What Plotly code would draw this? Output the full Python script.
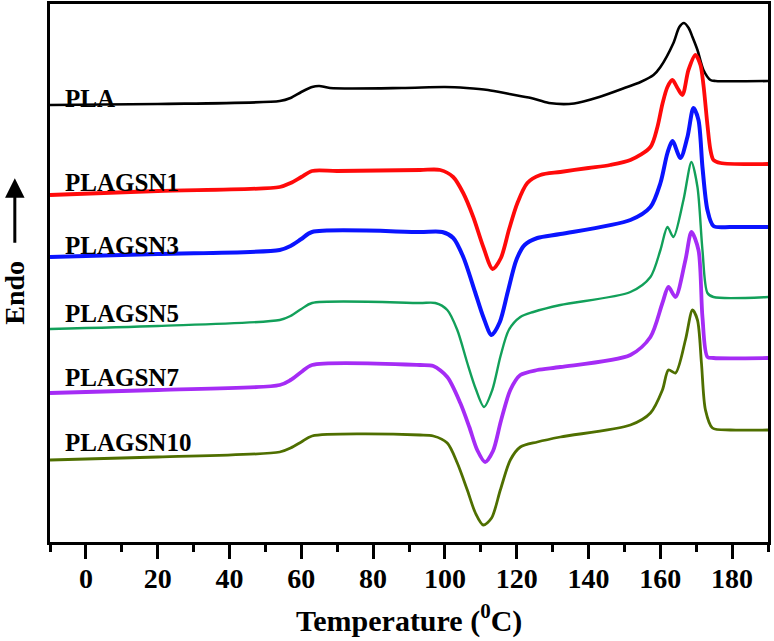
import plotly.graph_objects as go

# Temperature (°C) and heat-flow (arbitrary units, stacked)
pla_t = [-10, 20, 54, 57, 60, 63, 65, 68, 88, 100, 106, 112, 118, 124, 129, 136, 143, 150.8, 154.5, 158.1, 160.04, 163.66, 165.3, 166.6, 167.9, 168.96, 170.35, 172.02, 173.97, 175.4, 190]
pla_h = [437, 438, 441, 444, 450, 455, 456, 454, 454, 455, 454, 452, 448, 444, 439, 438.5, 445, 455, 460, 467, 475, 499, 515, 519, 514, 505, 492, 472, 462, 461, 461]

gsn1_t = [-10, 20, 54, 57, 60, 63, 70, 93.1, 98.7, 102.3, 105.1, 107.9, 110.7, 113.3, 115.6, 117.9, 120.2, 122.96, 126.58, 132.16, 140, 146, 151.67, 157.25, 159.2, 160.59, 161.99, 163.38, 164.78, 166.17, 167.84, 169.79, 171.18, 172.02, 173.13, 173.97, 174.81, 176.76, 190]
gsn1_h = [347, 351, 355, 359, 365, 371, 371, 372, 372, 365, 349, 325, 295, 273, 284, 313, 339, 359, 367, 370, 374, 377, 382, 395, 415, 438, 455, 462, 454, 447, 472, 487, 477, 457, 417, 392, 382, 379, 378]

gsn3_t = [-10, 20, 54, 57, 60, 63, 93.1, 99.27, 102.33, 105.12, 108.4, 110.7, 113.0, 115.3, 117.5, 119.9, 122.2, 125.75, 132.16, 151.67, 157.25, 160.04, 161.99, 163.38, 165.61, 167.56, 169.23, 170.63, 171.74, 173.13, 174.81, 179.55, 190]
gsn3_h = [285, 288, 292, 296, 303, 310, 310, 310, 304, 285, 250, 225, 207, 220, 250, 282, 297, 304, 308, 322, 335, 359, 389, 401, 384, 405, 434, 422, 375, 332, 316, 315, 315]

gsn5_t = [-10, 20, 54, 57, 60, 63, 93.1, 97.32, 100.66, 103.45, 106.24, 108.6, 110.9, 113.2, 115.5, 117.8, 121.01, 124.63, 132.16, 151.67, 157.25, 160.04, 161.99, 163.66, 166.45, 168.68, 170.35, 171.74, 173.13, 174.81, 190]
gsn5_h = [213, 216, 222, 226, 233, 239, 239, 239, 232, 212, 179, 153, 135, 152, 186, 212, 225, 230, 237, 250, 265, 292, 315, 305, 342, 380, 355, 292, 249, 245, 245]

gsn7_t = [-10, 20, 54, 57, 60, 63, 93.1, 96.76, 100.66, 104.29, 106.8, 109.0, 111.2, 113.4, 115.6, 118.22, 121.01, 125.75, 132.16, 151.67, 157.25, 160.59, 162.27, 164.22, 167.0, 168.68, 170.63, 171.74, 173.13, 174.81, 190]
gsn7_h = [149, 152, 157, 162, 170, 177, 177, 176, 165, 139, 115, 92, 80, 91, 121, 152, 167, 172, 175, 187, 205, 239, 255, 245, 282, 310, 292, 225, 185, 184, 184]

gsn10_t = [-10, 20, 54, 57, 60, 63, 93.1, 96.76, 100.66, 103.45, 106.24, 108.5, 110.7, 113.0, 115.44, 118.22, 121.01, 125.75, 132.16, 151.67, 157.25, 160.59, 162.27, 164.22, 167.0, 168.96, 170.35, 171.46, 172.58, 174.53, 179.55, 190]
gsn10_h = [82, 85, 90, 94, 100, 106, 107, 106, 99, 79, 52, 29, 17, 24, 52, 82, 95, 100, 105, 117, 129, 152, 172, 169, 202, 232, 222, 179, 132, 114, 112, 112]

series_names = ["PLA", "PLAGSN1", "PLAGSN3", "PLAGSN5", "PLAGSN7", "PLAGSN10"]
series_t = [pla_t, gsn1_t, gsn3_t, gsn5_t, gsn7_t, gsn10_t]
series_h = [pla_h, gsn1_h, gsn3_h, gsn5_h, gsn7_h, gsn10_h]
label_h = [444, 360, 297, 229, 165, 100]

colors = ["#000000", "#ff0a0a", "#0a14ff", "#12a05a", "#a52cf5", "#4f6f00"]
widths = [2.6, 3.8, 4.0, 2.4, 3.8, 2.8]

x_ticks = [0, 20, 40, 60, 80, 100, 120, 140, 160, 180]

SERIF = "Liberation Serif, Times New Roman, serif"

fig = go.Figure()
for name, t, h, c, w in zip(series_names, series_t, series_h, colors, widths):
    fig.add_trace(go.Scatter(x=t, y=h, mode="lines", name=name,
                             line=dict(color=c, width=w, shape="spline", smoothing=0.8)))

for name, y in zip(series_names, label_h):
    fig.add_annotation(x=-6.4, y=y, xref="x", yref="y", text=name, showarrow=False,
                       xanchor="left", yanchor="middle",
                       font=dict(family=SERIF, size=25, color="black", weight="bold"))

# y-axis label with arrow
fig.add_annotation(x=-0.049, y=0.463, xref="paper", yref="paper", text="Endo",
                   showarrow=False, textangle=-90, xanchor="center", yanchor="middle",
                   font=dict(family=SERIF, size=28, color="black", weight="bold"))
fig.add_annotation(x=-0.049, y=0.676, xref="paper", yref="paper", text="",
                   showarrow=True, ax=0, ay=66, axref="pixel", ayref="pixel",
                   arrowhead=2, arrowsize=1.3, arrowwidth=3, arrowcolor="black")

# x-axis title
fig.add_annotation(x=0.5, y=-0.142, xref="paper", yref="paper",
                   text="Temperature (<sup>0</sup>C)", showarrow=False,
                   xanchor="center", yanchor="middle",
                   font=dict(family=SERIF, size=30, color="black", weight="bold"))

fig.update_layout(
    width=774, height=641,
    margin=dict(l=50, r=6, t=4, b=99),
    paper_bgcolor="white", plot_bgcolor="white",
    showlegend=False,
    xaxis=dict(range=[-10, 190], tickvals=x_ticks, ticks="outside", ticklen=14, tickwidth=3,
               tickcolor="black", showline=True, linewidth=3, linecolor="black", mirror=True,
               showgrid=False, zeroline=False, automargin=False, ticklabelstandoff=-5,
               minor=dict(dtick=10, tick0=-10, ticks="outside", ticklen=7, tickwidth=3, tickcolor="black"),
               tickfont=dict(family=SERIF, size=28, color="black", weight="bold")),
    yaxis=dict(range=[0, 538], showticklabels=False, ticks="", showline=True, linewidth=3,
               linecolor="black", mirror=True, showgrid=False, zeroline=False, automargin=False),
)

fig.write_html("out.html", config={"displayModeBar": False},
               post_script="document.body.style.margin='0';")
